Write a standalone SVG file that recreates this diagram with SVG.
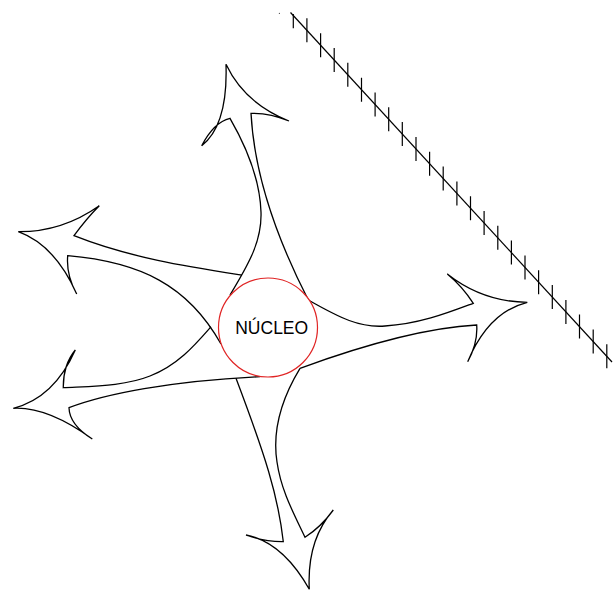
<svg xmlns="http://www.w3.org/2000/svg" width="613" height="590" viewBox="0 0 613 590">
<style>
.arrow{fill:none;stroke:#000;stroke-width:1.3;stroke-linejoin:miter}
.hatch{fill:none;stroke:#000;stroke-width:1.2}
.nucleus{fill:#fff;stroke:#e02424;stroke-width:1.2}
.label{font-family:"Liberation Sans",Arial,sans-serif;font-size:17.5px;fill:#000}
</style>
<rect x="0" y="0" width="613" height="590" fill="#fff"/>
<g id="connectors">
<path id="arrow-up" class="arrow" d="M230,295 C250,262 262,240 261,212 C260,180 246,146 230,118.3 Q214,122 201.7,145.7 Q228,125 226,64.3 Q244.5,103.4 289,121 Q270,113 251,113.3 C254,170 275,235 308.3,300"/>
<path id="arrow-right" class="arrow" d="M308.3,300 C340,318 360,328 385,326 C420,324 450,312 473.3,303.3 Q462,286 447.3,274 Q482.7,301.9 527.3,302.3 Q488.5,312 467.7,361.7 Q478,343 476.7,325 C420,328 350,350 300,368.3"/>
<path id="arrow-down" class="arrow" d="M300,368.3 C282,398 272,430 277,462 C281,490 293,512 305,537.3 Q321,527 333.3,510 Q306.7,540.4 309.3,589.3 Q282.4,541.9 246,535 Q265,542 283.3,541.7 C278,495 265,455 236,378.3"/>
<path id="arrow-lower-left" class="arrow" d="M260,376.7 C170,381 105,394 69,407.7 Q69.4,424.6 92.3,439 Q47.2,406.4 13.3,408.3 Q54,398 75.3,350 Q63,365 63.3,387.7 C95,386 125,386 150,376 C178,365 195,345 211,326.7"/>
<path id="arrow-upper-left" class="arrow" d="M241.7,275 C190,267 130,258 74,235.7 Q86,219 99.3,205.7 Q62,232 18.3,231.7 Q55,245 76.7,294 Q66,275 67.7,255.7 C140,262 188,285 221,344"/>
</g>
<g id="barrier">
<circle cx="279.4" cy="13.4" r="0.6" fill="#555"/>
<line class="hatch" x1="290.5" y1="12.5" x2="612" y2="362"/>
<path class="hatch" d="M293.3,14 V28.3 M306.9,18.3 v24 M320.6,33.2 v24 M334.2,48 v24 M347.8,62.8 v24 M361.5,77.7 v24 M375.1,92.5 v24 M388.7,107.2 v24 M402.3,122 v24 M416,136.9 v24 M429.6,151.7 v24 M443.2,166.5 v24 M456.9,181.4 v24 M470.5,196.2 v24 M484.1,210.9 v24 M497.8,225.8 v24 M511.4,240.6 v24 M525,255.4 v24 M538.6,270.2 v24 M552.3,285.1 v24 M565.9,299.9 v24 M579.5,314.6 v24 M593.2,329.5 v24 M606.8,344.3 v24"/>
</g>
<g id="nucleo">
<circle class="nucleus" cx="268" cy="327.5" r="49.5"/>
<text class="label" x="271.7" y="334" text-anchor="middle">NÚCLEO</text>
</g>
</svg>
